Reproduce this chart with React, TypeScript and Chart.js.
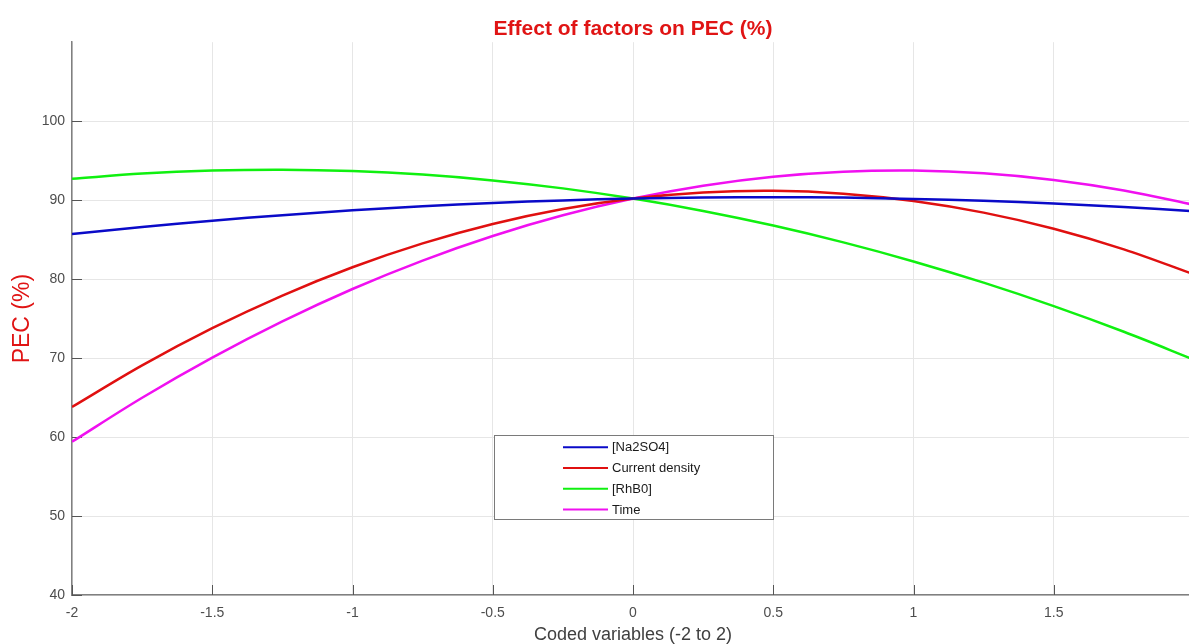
import React, { useEffect, useRef } from 'react';
import { Chart, registerables } from 'chart.js';

Chart.register(...registerables);

// Coded variable positions (x) at which the curves were read
const X_VALUES = [-2, -1.75, -1.5, -1.25, -1, -0.75, -0.5, -0.25, 0, 0.25, 0.5, 0.75, 1, 1.25, 1.5, 1.75, 2];

// PEC (%) readings per factor
const NA2SO4 = [85.7, 86.6, 87.4, 88.1, 88.71, 89.23, 89.65, 89.97, 90.2, 90.33, 90.37, 90.32, 90.16, 89.92, 89.57, 89.13, 88.6];
const CURRENT_DENSITY = [63.8, 69.07, 73.78, 77.92, 81.5, 84.52, 86.98, 88.87, 90.2, 90.97, 91.18, 90.82, 89.9, 88.42, 86.38, 83.77, 80.6];
const RHB0 = [92.7, 93.37, 93.75, 93.86, 93.69, 93.24, 92.5, 91.49, 90.2, 88.63, 86.78, 84.65, 82.24, 79.55, 76.58, 73.33, 69.8];
const TIME = [59.4, 64.98, 70.06, 74.65, 78.75, 82.35, 85.46, 88.08, 90.2, 91.83, 92.96, 93.6, 93.75, 93.4, 92.56, 91.23, 89.4];

const SERIES_LABELS = ['[Na2SO4]', 'Current density', '[RhB0]', 'Time'];
const SERIES_COLORS = ['#0a0ac8', '#e01010', '#10f010', '#f010f0'];

const X_TICKS = [-2, -1.5, -1, -0.5, 0, 0.5, 1, 1.5, 2];
const Y_TICKS = [40, 50, 60, 70, 80, 90, 100];

const TITLE = 'Effect of factors on PEC (%)';
const X_TITLE = 'Coded variables (-2 to 2)';
const Y_TITLE = 'PEC (%)';

const FONT = '"Liberation Sans", Arial, Helvetica, sans-serif';

const insideTicks = {
  id: 'insideTicks',
  beforeDatasetsDraw(chart: any) {
    const { ctx, chartArea: a, scales } = chart;
    const x = scales.x;
    const y = scales.y;
    ctx.save();
    ctx.strokeStyle = '#555555';
    ctx.lineWidth = 1;
    X_TICKS.forEach((v) => {
      const px = Math.round(x.getPixelForValue(v)) + 0.5;
      ctx.beginPath();
      ctx.moveTo(px, a.bottom);
      ctx.lineTo(px, a.bottom - 10);
      ctx.stroke();
    });
    Y_TICKS.forEach((v) => {
      const py = Math.round(y.getPixelForValue(v)) + 0.5;
      ctx.beginPath();
      ctx.moveTo(a.left, py);
      ctx.lineTo(a.left + 10, py);
      ctx.stroke();
    });
    ctx.restore();
  },
};

const boxLegend = {
  id: 'boxLegend',
  afterDraw(chart: any) {
    const { ctx, chartArea: a } = chart;
    const left = a.left + 422;
    const top = a.top + 393;
    const w = 279;
    const h = 84;
    ctx.save();
    ctx.fillStyle = '#ffffff';
    ctx.fillRect(left, top, w, h);
    ctx.strokeStyle = '#7a7a7a';
    ctx.lineWidth = 1;
    ctx.strokeRect(Math.round(left) + 0.5, Math.round(top) + 0.5, w, h);
    ctx.font = `13px ${FONT}`;
    ctx.textBaseline = 'middle';
    ctx.textAlign = 'left';
    chart.data.datasets.forEach((ds: any, i: number) => {
      const ry = top + 12 + i * 20.8;
      ctx.strokeStyle = ds.borderColor;
      ctx.lineWidth = 2;
      ctx.beginPath();
      ctx.moveTo(left + 69, ry);
      ctx.lineTo(left + 114, ry);
      ctx.stroke();
      ctx.fillStyle = '#1a1a1a';
      ctx.fillText(ds.label, left + 118, ry + 0.5);
    });
    ctx.restore();
  },
};

export default function App() {
  const canvasRef = useRef<HTMLCanvasElement | null>(null);

  useEffect(() => {
    if (!canvasRef.current) return;
    const series = [NA2SO4, CURRENT_DENSITY, RHB0, TIME];
    const chart = new Chart(canvasRef.current, {
      type: 'line',
      data: {
        datasets: series.map((vals, i) => ({
          label: SERIES_LABELS[i],
          data: X_VALUES.map((xv, j) => ({ x: xv, y: vals[j] })),
          borderColor: SERIES_COLORS[i],
          backgroundColor: SERIES_COLORS[i],
          borderWidth: 2.5,
          pointRadius: 0,
          tension: 0.35,
          fill: false,
        })),
      },
      options: {
        responsive: false,
        animation: false,
        devicePixelRatio: 1,
        layout: { padding: { left: 0, right: 72, top: 0, bottom: 0 } },
        plugins: {
          legend: { display: false },
          tooltip: { enabled: false },
          title: {
            display: true,
            text: TITLE,
            fullSize: false,
            color: '#e01414',
            font: { family: FONT, size: 21, weight: 'bold', lineHeight: 1.2 },
            padding: { top: 17, bottom: 0 },
          },
        },
        scales: {
          x: {
            type: 'linear',
            min: -2,
            max: 2,
            afterBuildTicks: (scale: any) => {
              scale.ticks = X_TICKS.map((v) => ({ value: v }));
            },
            afterFit: (scale: any) => {
              scale.height = 49;
            },
            ticks: {
              padding: 10,
              color: '#4d4d4d',
              font: { family: FONT, size: 14 },
              callback: (v: any) => String(v),
              maxRotation: 0,
            },
            grid: { color: '#e6e6e6', drawTicks: false, lineWidth: 1 },
            border: { color: '#808080', width: 1.5 },
            title: {
              display: true,
              text: X_TITLE,
              color: '#404040',
              font: { family: FONT, size: 18, lineHeight: 1 },
              padding: { top: 4, bottom: 0 },
            },
          },
          y: {
            type: 'linear',
            min: 40,
            max: 110,
            afterBuildTicks: (scale: any) => {
              scale.ticks = Y_TICKS.map((v) => ({ value: v }));
            },
            afterFit: (scale: any) => {
              scale.width = 72;
            },
            ticks: {
              padding: 7,
              color: '#4d4d4d',
              font: { family: FONT, size: 14 },
              callback: (v: any) => String(v),
            },
            grid: { color: '#e6e6e6', drawTicks: false, lineWidth: 1 },
            border: { color: '#808080', width: 1.5 },
            title: {
              display: true,
              text: Y_TITLE,
              color: '#e01414',
              font: { family: FONT, size: 23, lineHeight: 1 },
              padding: { top: 11.5, bottom: 7 },
            },
          },
        },
      },
      plugins: [insideTicks, boxLegend],
    } as any);
    return () => chart.destroy();
  }, []);

  return (
    <div
      style={{
        position: 'fixed',
        left: 0,
        top: 0,
        width: 1189,
        height: 644,
        overflow: 'hidden',
        background: '#ffffff',
      }}
    >
      <canvas ref={canvasRef} width={1266} height={644} style={{ display: 'block' }} />
    </div>
  );
}
